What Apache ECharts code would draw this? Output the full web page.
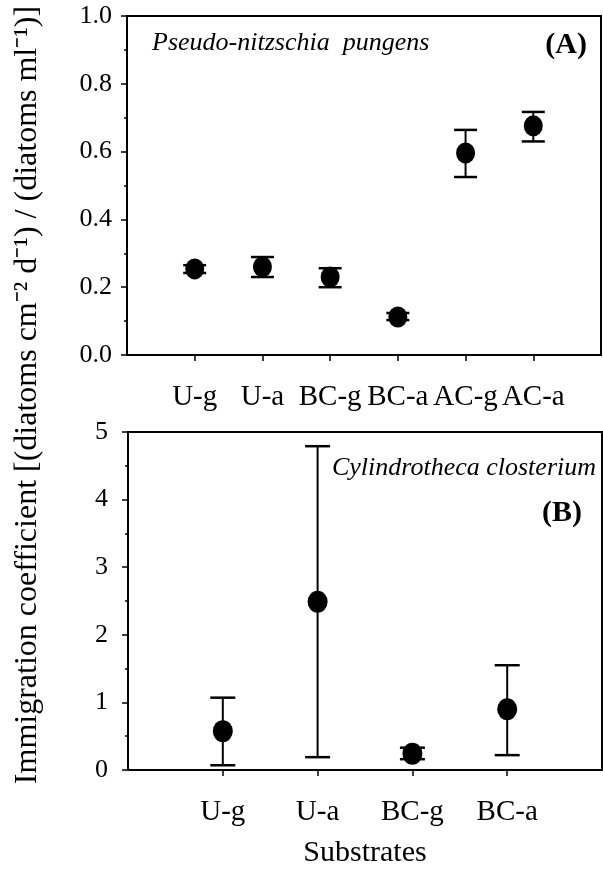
<!DOCTYPE html>
<html>
<head>
<meta charset="utf-8">
<script src="https://cdn.jsdelivr.net/npm/echarts@6/dist/echarts.min.js"></script>
<style>
  html, body { margin: 0; padding: 0; background: #fff; }
  #chart { width: 603px; height: 869px; }
</style>
</head>
<body>
<div id="chart"></div>
<script>
// panel A - Pseudo-nitzschia pungens
const topCategories = ['U-g', 'U-a', 'BC-g', 'BC-a', 'AC-g', 'AC-a'];
const topMeans = [0.254, 0.26, 0.23, 0.112, 0.596, 0.676];
const topLower = [0.242, 0.23, 0.2, 0.103, 0.525, 0.63];
const topUpper = [0.265, 0.289, 0.256, 0.124, 0.664, 0.717];
const topTickLabels = ['0.0', '0.2', '0.4', '0.6', '0.8', '1.0'];

// panel B - Cylindrotheca closterium
const bottomCategories = ['U-g', 'U-a', 'BC-g', 'BC-a'];
const bottomMeans = [0.575, 2.49, 0.24, 0.9];
const bottomLower = [0.07, 0.19, 0.16, 0.22];
const bottomUpper = [1.07, 4.79, 0.33, 1.55];
const bottomTickLabels = ['0', '1', '2', '3', '4', '5'];

const FONT = "'Liberation Serif', 'Times New Roman', serif";

const chart = echarts.init(document.getElementById('chart'));

function errorBar(capWidth) {
    return function (params, api) {
        const x = api.value(0);
        const lo = api.coord([x, api.value(1)]);
        const hi = api.coord([x, api.value(2)]);
        const half = capWidth / 2;
        return {
            type: 'group',
            children: [
                { type: 'line', shape: { x1: lo[0], y1: lo[1], x2: hi[0], y2: hi[1] }, style: { stroke: '#000', lineWidth: 2 } },
                { type: 'line', shape: { x1: lo[0] - half, y1: lo[1], x2: lo[0] + half, y2: lo[1] }, style: { stroke: '#000', lineWidth: 2.5 } },
                { type: 'line', shape: { x1: hi[0] - half, y1: hi[1], x2: hi[0] + half, y2: hi[1] }, style: { stroke: '#000', lineWidth: 2.5 } }
            ]
        };
    };
}

const axisLineStyle = { show: true, lineStyle: { color: '#000', width: 2 } };

function xAxisFor(gridIndex, cats) {
    const ticks = cats.map((c, i) => i + 1);
    return {
        type: 'value',
        gridIndex: gridIndex,
        min: 0,
        max: cats.length + 1,
        interval: 1,
        splitLine: { show: false },
        axisLine: axisLineStyle,
        axisTick: { show: true, length: 6, lineStyle: { color: '#000', width: 1.5 }, customValues: ticks },
        axisLabel: {
            customValues: ticks,
            formatter: (v) => cats[v - 1] || '',
            fontFamily: FONT,
            fontSize: 29,
            lineHeight: 29,
            color: '#000',
            margin: 28
        }
    };
}

chart.setOption({
    backgroundColor: '#fff',
    animation: false,
    grid: [
        { left: 127, top: 16, right: 2, bottom: 514, show: true, borderColor: '#000', borderWidth: 2 },
        { left: 128, top: 432, right: 1, bottom: 98, show: true, borderColor: '#000', borderWidth: 2 }
    ],
    xAxis: [
        xAxisFor(0, topCategories),
        Object.assign(xAxisFor(1, bottomCategories), {
            name: 'Substrates',
            nameLocation: 'middle',
            nameGap: 68,
            nameTextStyle: { fontFamily: FONT, fontSize: 30, color: '#000' }
        })
    ],
    yAxis: [
        {
            type: 'value',
            gridIndex: 0,
            min: 0,
            max: 1,
            interval: 0.2,
            splitLine: { show: false },
            axisLine: axisLineStyle,
            axisTick: { show: true, length: 6, lineStyle: { color: '#000', width: 1.5 } },
            minorTick: { show: true, splitNumber: 2, length: 3, lineStyle: { color: '#000', width: 1.5 } },
            axisLabel: {
                formatter: (v) => topTickLabels[Math.round(v / 0.2)],
                fontFamily: FONT, fontSize: 26, color: '#000', margin: 15
            }
        },
        {
            type: 'value',
            gridIndex: 1,
            min: 0,
            max: 5,
            interval: 1,
            splitLine: { show: false },
            axisLine: axisLineStyle,
            axisTick: { show: true, length: 6, lineStyle: { color: '#000', width: 1.5 } },
            minorTick: { show: true, splitNumber: 2, length: 3, lineStyle: { color: '#000', width: 1.5 } },
            axisLabel: {
                formatter: (v) => bottomTickLabels[v],
                fontFamily: FONT, fontSize: 26, color: '#000', margin: 20
            }
        }
    ],
    graphic: [
        {
            type: 'text',
            x: 28, y: 395,
            rotation: Math.PI / 2,
            style: {
                text: 'Immigration coefficient [(diatoms cm⁻² d⁻¹) / (diatoms ml⁻¹)]',
                font: '32px ' + FONT,
                fill: '#000',
                align: 'center',
                verticalAlign: 'middle'
            }
        },
        {
            type: 'text', x: 152, y: 43,
            style: { text: 'Pseudo-nitzschia  pungens', font: 'italic 26px ' + FONT, fill: '#000', verticalAlign: 'middle' }
        },
        {
            type: 'text', x: 587, y: 45,
            style: { text: '(A)', font: 'bold 30px ' + FONT, fill: '#000', align: 'right', verticalAlign: 'middle' }
        },
        {
            type: 'text', x: 596, y: 468,
            style: { text: 'Cylindrotheca closterium', font: 'italic 26px ' + FONT, fill: '#000', align: 'right', verticalAlign: 'middle' }
        },
        {
            type: 'text', x: 582, y: 513,
            style: { text: '(B)', font: 'bold 30px ' + FONT, fill: '#000', align: 'right', verticalAlign: 'middle' }
        }
    ],
    series: [
        {
            type: 'custom',
            xAxisIndex: 0, yAxisIndex: 0,
            renderItem: errorBar(23),
            data: topCategories.map((c, i) => [i + 1, topLower[i], topUpper[i]]),
            z: 2
        },
        {
            type: 'scatter',
            xAxisIndex: 0, yAxisIndex: 0,
            symbolSize: [19, 21],
            itemStyle: { color: '#000', opacity: 1 },
            data: topCategories.map((c, i) => [i + 1, topMeans[i]]),
            z: 3
        },
        {
            type: 'custom',
            xAxisIndex: 1, yAxisIndex: 1,
            renderItem: errorBar(25),
            data: bottomCategories.map((c, i) => [i + 1, bottomLower[i], bottomUpper[i]]),
            z: 2
        },
        {
            type: 'scatter',
            xAxisIndex: 1, yAxisIndex: 1,
            symbolSize: [20, 22],
            itemStyle: { color: '#000', opacity: 1 },
            data: bottomCategories.map((c, i) => [i + 1, bottomMeans[i]]),
            z: 3
        }
    ]
});
</script>
</body>
</html>
